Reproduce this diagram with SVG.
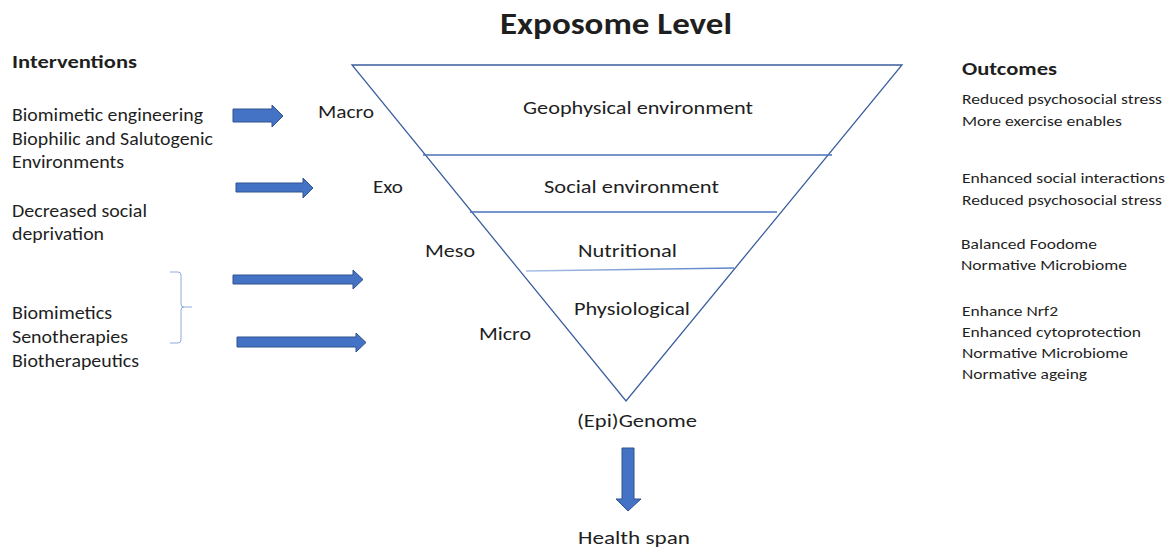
<svg xmlns="http://www.w3.org/2000/svg" width="1176" height="547" viewBox="0 0 1176 547">
<defs>
<style>
text{font-family:Carlito,Lato,"Open Sans",sans-serif;fill:#1f1f1f}
.h{font-weight:bold}
.l{font-size:18.5px}
.m{font-size:18.5px}
.r{font-size:15px}
.arr{fill:#4472C4;stroke:#2F528F;stroke-width:1}
.tri{fill:none;stroke:#3B5E9E;stroke-width:1.3}
.sep{stroke:#4A72B8;stroke-width:1.3}
</style>
<linearGradient id="g3" x1="0" x2="1" y1="0" y2="0">
<stop offset="0" stop-color="#A9BFE6"/>
<stop offset="1" stop-color="#5B84C8"/>
</linearGradient>
</defs>
<rect width="1176" height="547" fill="#ffffff"/>

<g id="title"><text class="h" x="500" y="34" font-size="31" textLength="232" lengthAdjust="spacingAndGlyphs">Exposome Level</text></g>

<g id="pyramid">
<path class="tri" d="M352,65 H902 L626,401 Z"/>
<line class="sep" x1="423" y1="155" x2="832" y2="155"/>
<line class="sep" x1="470" y1="212" x2="777" y2="212"/>
<line x1="526" y1="271" x2="734" y2="268" stroke="url(#g3)" stroke-width="1.3"/>
</g>

<g id="level-geophysical"><text class="m" x="523" y="114" textLength="230" lengthAdjust="spacingAndGlyphs">Geophysical environment</text></g>
<g id="level-social"><text class="m" x="544" y="193" textLength="175" lengthAdjust="spacingAndGlyphs">Social environment</text></g>
<g id="level-nutritional"><text class="m" x="578" y="257" textLength="99" lengthAdjust="spacingAndGlyphs">Nutritional</text></g>
<g id="level-physiological"><text class="m" x="574" y="315" textLength="116" lengthAdjust="spacingAndGlyphs">Physiological</text></g>

<g id="scale-macro"><text class="m" x="318" y="118" textLength="56" lengthAdjust="spacingAndGlyphs">Macro</text></g>
<g id="scale-exo"><text class="m" x="373" y="193" textLength="30" lengthAdjust="spacingAndGlyphs">Exo</text></g>
<g id="scale-meso"><text class="m" x="425" y="257" textLength="50" lengthAdjust="spacingAndGlyphs">Meso</text></g>
<g id="scale-micro"><text class="m" x="479" y="340" textLength="52" lengthAdjust="spacingAndGlyphs">Micro</text></g>

<g id="genome"><text class="m" x="577" y="427" textLength="120" lengthAdjust="spacingAndGlyphs">(Epi)Genome</text></g>
<g id="healthspan"><text class="m" x="578" y="544" textLength="112" lengthAdjust="spacingAndGlyphs">Health span</text></g>

<g id="interventions">
<text class="h" x="12" y="68" font-size="18.5" textLength="125" lengthAdjust="spacingAndGlyphs">Interventions</text>
<text class="l" x="12" y="121" textLength="191" lengthAdjust="spacingAndGlyphs">Biomimetic engineering</text>
<text class="l" x="12" y="145" textLength="201" lengthAdjust="spacingAndGlyphs">Biophilic and Salutogenic</text>
<text class="l" x="12" y="168" textLength="112" lengthAdjust="spacingAndGlyphs">Environments</text>
<text class="l" x="12" y="217" textLength="135" lengthAdjust="spacingAndGlyphs">Decreased social</text>
<text class="l" x="12" y="240" textLength="92" lengthAdjust="spacingAndGlyphs">deprivation</text>
<text class="l" x="12" y="319" textLength="100" lengthAdjust="spacingAndGlyphs">Biomimetics</text>
<text class="l" x="12" y="343" textLength="116" lengthAdjust="spacingAndGlyphs">Senotherapies</text>
<text class="l" x="12" y="367" textLength="127" lengthAdjust="spacingAndGlyphs">Biotherapeutics</text>
</g>

<g id="brace">
<path d="M170,272 H178 Q181,272 181,275 V304 Q181,307 184,307 H192 M184,307 Q181,307 181,310 V340 Q181,343 178,343 H170" fill="none" stroke="#8FAADC" stroke-width="1"/>
</g>

<g id="outcomes">
<text class="h" x="962" y="75" font-size="18.5" textLength="95" lengthAdjust="spacingAndGlyphs">Outcomes</text>
<text class="r" x="962" y="104" textLength="200" lengthAdjust="spacingAndGlyphs">Reduced psychosocial stress</text>
<text class="r" x="962" y="126" textLength="160" lengthAdjust="spacingAndGlyphs">More exercise enables</text>
<text class="r" x="962" y="183" textLength="203" lengthAdjust="spacingAndGlyphs">Enhanced social interactions</text>
<text class="r" x="962" y="205" textLength="200" lengthAdjust="spacingAndGlyphs">Reduced psychosocial stress</text>
<text class="r" x="961" y="249" textLength="136" lengthAdjust="spacingAndGlyphs">Balanced Foodome</text>
<text class="r" x="961" y="270" textLength="166" lengthAdjust="spacingAndGlyphs">Normative Microbiome</text>
<text class="r" x="962" y="316" textLength="96" lengthAdjust="spacingAndGlyphs">Enhance Nrf2</text>
<text class="r" x="962" y="337" textLength="179" lengthAdjust="spacingAndGlyphs">Enhanced cytoprotection</text>
<text class="r" x="962" y="358" textLength="166" lengthAdjust="spacingAndGlyphs">Normative Microbiome</text>
<text class="r" x="962" y="379" textLength="125" lengthAdjust="spacingAndGlyphs">Normative ageing</text>
</g>

<g id="connectors">
<path class="arr" d="M233,109 H272 V105 L283,116 L272,127 V122 H233 Z"/>
<path class="arr" d="M236,183 H303 V178 L313,188 L303,198 V192 H236 Z"/>
<path class="arr" d="M233,275 H353 V270 L363,279.5 L353,289 V284 H233 Z"/>
<path class="arr" d="M237,337 H356 V333 L366,342.5 L356,352 V347 H237 Z"/>
<path class="arr" d="M622,448 H634 V499 H641 L628,511 L616,499 H622 Z"/>
</g>
</svg>
